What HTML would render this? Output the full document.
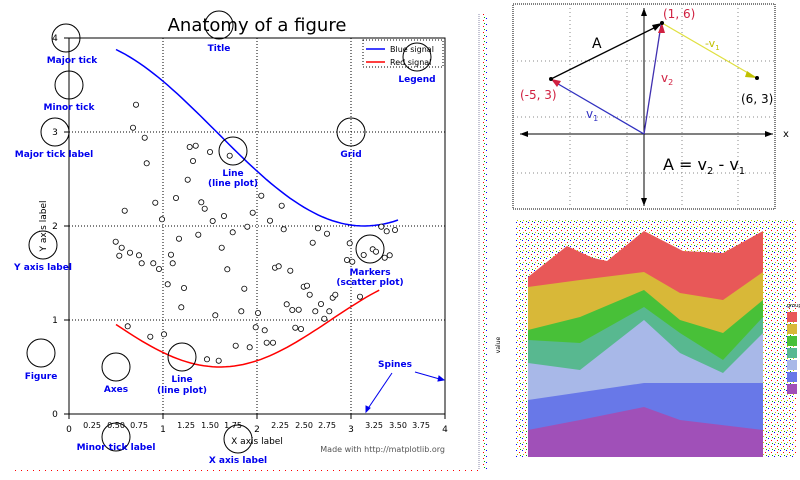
<!DOCTYPE html>
<html><head><meta charset="utf-8"><style>
html,body{margin:0;padding:0;background:#fff;width:800px;height:480px;overflow:hidden}
text{font-family:"DejaVu Sans","Liberation Sans",sans-serif}
.b{fill:#0000ee;font-weight:bold;font-size:9px;text-anchor:middle}
.t{font-size:9px;fill:#000;text-anchor:middle}
.m{font-size:8px;fill:#333;text-anchor:middle}
.c{fill:none;stroke:#000;stroke-width:1}
</style></head><body>
<svg width="800" height="480" viewBox="0 0 800 480" xmlns="http://www.w3.org/2000/svg">
<defs>
<pattern id="noise" width="6" height="6" patternUnits="userSpaceOnUse">
<rect x="0" y="0" width="1" height="1" fill="#00f"/><rect x="3" y="2" width="1" height="1" fill="#f00"/><rect x="1" y="4" width="1" height="1" fill="#cc0"/><rect x="4" y="5" width="1" height="1" fill="#0a0"/>
</pattern>
</defs>
<!-- left panel -->
<text x="257" y="31" font-size="18" text-anchor="middle" fill="#000">Anatomy of a figure</text>
<!-- grid -->
<g stroke="#000" stroke-width="1" stroke-dasharray="1,2">
<line x1="163" y1="38" x2="163" y2="414"/><line x1="257" y1="38" x2="257" y2="414"/><line x1="351" y1="38" x2="351" y2="414"/>
<line x1="69" y1="320" x2="445" y2="320"/><line x1="69" y1="226" x2="445" y2="226"/><line x1="69" y1="132" x2="445" y2="132"/>
</g>
<rect x="69" y="38" width="376" height="376" fill="none" stroke="#000" stroke-width="1"/>
<!-- ticks -->
<g stroke="#000">
<line x1="69" y1="414" x2="69" y2="419"/><line x1="163" y1="414" x2="163" y2="419"/><line x1="257" y1="414" x2="257" y2="419"/><line x1="351" y1="414" x2="351" y2="419"/><line x1="445" y1="414" x2="445" y2="419"/>
<line x1="64" y1="414" x2="69" y2="414"/><line x1="64" y1="320" x2="69" y2="320"/><line x1="64" y1="226" x2="69" y2="226"/><line x1="64" y1="132" x2="69" y2="132"/><line x1="64" y1="38" x2="69" y2="38"/>
</g>
<g class="t">
<text x="69" y="432">0</text><text x="163" y="432">1</text><text x="257" y="432">2</text><text x="351" y="432">3</text><text x="445" y="432">4</text>
<text x="92" y="428" font-size="8">0.25</text><text x="116" y="428" font-size="8">0.50</text><text x="139" y="428" font-size="8">0.75</text>
<text x="186" y="428" font-size="8">1.25</text><text x="210" y="428" font-size="8">1.50</text><text x="233" y="428" font-size="8">1.75</text>
<text x="280" y="428" font-size="8">2.25</text><text x="304" y="428" font-size="8">2.50</text><text x="327" y="428" font-size="8">2.75</text>
<text x="374" y="428" font-size="8">3.25</text><text x="398" y="428" font-size="8">3.50</text><text x="421" y="428" font-size="8">3.75</text>
<text x="55" y="417">0</text><text x="55" y="323">1</text><text x="55" y="229">2</text><text x="55" y="135">3</text><text x="55" y="41">4</text>
</g>
<text x="257" y="444" class="t">X axis label</text>
<text transform="translate(46,226) rotate(-90)" class="t">Y axis label</text>
<text x="445" y="452" font-size="8" fill="#555" text-anchor="end">Made with http://matplotlib.org</text>
<!-- curves -->
<path id="blue" fill="none" stroke="#0000ff" stroke-width="1.5" d=""/>
<path id="red" fill="none" stroke="#ff0000" stroke-width="1.5" d=""/>
<!-- legend -->
<rect x="363" y="40" width="80" height="27" fill="#fff" stroke="#000" stroke-dasharray="1,2"/>
<line x1="366" y1="49" x2="385" y2="49" stroke="#00f" stroke-width="1.5"/><text x="390" y="52" font-size="8">Blue signal</text>
<line x1="366" y1="62" x2="385" y2="62" stroke="#f00" stroke-width="1.5"/><text x="390" y="65" font-size="8">Red signal</text>
<!-- scatter -->
<g id="sc" fill="#fff" stroke="#000" stroke-width="0.8"></g>
<!-- annotation circles -->
<g class="c">
<circle cx="66" cy="38" r="14"/><circle cx="69" cy="85" r="14"/><circle cx="55" cy="132" r="14"/><circle cx="219" cy="25" r="14"/><circle cx="233" cy="151" r="14"/><circle cx="351" cy="132" r="14"/><circle cx="417" cy="57" r="14"/><circle cx="43" cy="245" r="14"/><circle cx="370" cy="249" r="14"/><circle cx="41" cy="353" r="14"/><circle cx="116" cy="367" r="14"/><circle cx="182" cy="357" r="14"/><circle cx="116" cy="437" r="14"/><circle cx="238" cy="439" r="14"/>
</g>
<g class="b">
<text x="72" y="63">Major tick</text><text x="69" y="110">Minor tick</text><text x="54" y="157">Major tick label</text><text x="219" y="51">Title</text><text x="417" y="82">Legend</text>
<text x="233" y="176">Line</text><text x="233" y="186">(line plot)</text><text x="351" y="157">Grid</text><text x="43" y="270">Y axis label</text>
<text x="370" y="275">Markers</text><text x="370" y="285">(scatter plot)</text><text x="41" y="379">Figure</text><text x="116" y="392">Axes</text>
<text x="182" y="382">Line</text><text x="182" y="393">(line plot)</text><text x="395" y="367">Spines</text><text x="116" y="450">Minor tick label</text><text x="238" y="463">X axis label</text>
</g>
<g stroke="#0000ee" stroke-width="1" fill="#0000ee">
<line x1="392" y1="373" x2="367" y2="410"/><polygon points="366,412 366,406 370,408"/>
<line x1="415" y1="372" x2="443" y2="380"/><polygon points="444,380 439,376 438,381"/>
</g>
<line x1="479" y1="14" x2="479" y2="470" stroke="#88a" stroke-dasharray="1,1"/>
<rect x="10" y="469" width="470" height="3" fill="url(#noise)"/>
<rect x="482" y="14" width="5" height="456" fill="url(#noise)"/>

<!-- top right vector panel -->
<g>
<rect x="513" y="4" width="262" height="205" fill="#fff" stroke="#000" stroke-dasharray="1,1"/>
<g stroke="#888" stroke-dasharray="1,3">
<line x1="570" y1="4" x2="570" y2="209"/><line x1="627" y1="4" x2="627" y2="209"/><line x1="682" y1="4" x2="682" y2="209"/><line x1="738" y1="4" x2="738" y2="209"/>
<line x1="513" y1="61" x2="775" y2="61"/><line x1="513" y1="117" x2="775" y2="117"/><line x1="513" y1="173" x2="775" y2="173"/>
</g>
<line x1="520" y1="134" x2="773" y2="134" stroke="#000"/><polygon points="773,134 765,131 765,137"/><polygon points="520,134 528,131 528,137"/>
<line x1="644" y1="8" x2="644" y2="206" stroke="#000"/><polygon points="644,8 641,16 647,16"/><polygon points="644,206 641,198 647,198"/>
<text x="783" y="137" font-size="10">x</text>
<line x1="551" y1="79" x2="660" y2="25" stroke="#000" stroke-width="1.3"/><polygon points="662,23 652,25 655,31"/>
<line x1="644" y1="134" x2="553" y2="81" stroke="#3030c0" stroke-width="1.3"/><polygon points="551,79 561,81 557,87" fill="#d02040"/>
<line x1="644" y1="134" x2="661" y2="25" stroke="#4030b0" stroke-width="1.3"/><polygon points="662,23 658,33 665,33" fill="#d02040"/>
<line x1="662" y1="23" x2="755" y2="77" stroke="#e0e040" stroke-width="1.3"/><polygon points="757,78 747,71 745,77" fill="#c0c000"/>
<circle cx="551" cy="79" r="2"/><circle cx="662" cy="23" r="2"/><circle cx="757" cy="78" r="2"/>
<text x="663" y="18" font-size="12" fill="#d02040">(1, 6)</text>
<text x="520" y="99" font-size="12" fill="#d02040">(-5, 3)</text>
<text x="741" y="103" font-size="12" fill="#000">(6, 3)</text>
<text x="592" y="48" font-size="14">A</text>
<text x="661" y="82" font-size="12" fill="#d02040">v<tspan font-size="8" dy="3">2</tspan></text>
<text x="586" y="118" font-size="12" fill="#3030c0">v<tspan font-size="8" dy="3">1</tspan></text>
<text x="705" y="47" font-size="11" fill="#c0c000">-v<tspan font-size="7" dy="3">1</tspan></text>
<text x="663" y="170" font-size="16">A = v<tspan font-size="10" dy="4">2</tspan><tspan dy="-4"> - v</tspan><tspan font-size="10" dy="4">1</tspan></text>
</g>

<!-- bottom right stacked area -->
<rect x="516" y="220" width="280" height="238" fill="url(#noise)"/>
<g stroke="none">
<polygon fill="#e85858" points="528,277 567,246 593,258 607,261 644,231 683,251 723,253 763,231 763,457 528,457"/>
<polygon fill="#d8b838" points="528,287 580,280 644,272 680,293 723,300 763,272 763,457 528,457"/>
<polygon fill="#48c038" points="528,330 580,317 644,290 680,320 723,333 763,300 763,457 528,457"/>
<polygon fill="#58b890" points="528,340 580,343 644,307 680,333 723,360 763,317 763,457 528,457"/>
<polygon fill="#a8b8e8" points="528,363 580,370 644,320 680,353 723,373 763,333 763,457 528,457"/>
<polygon fill="#6878e8" points="528,400 644,383 763,383 763,457 528,457"/>
<polygon fill="#a050b8" points="528,430 580,420 644,407 680,420 763,430 763,457 528,457"/>
</g>
<text transform="translate(500,345) rotate(-90)" font-size="6" text-anchor="middle">value</text>
<g>
<rect x="787" y="312" width="10" height="10" fill="#e85858"/><rect x="787" y="324" width="10" height="10" fill="#d8b838"/><rect x="787" y="336" width="10" height="10" fill="#48c038"/><rect x="787" y="348" width="10" height="10" fill="#58b890"/><rect x="787" y="360" width="10" height="10" fill="#a8b8e8"/><rect x="787" y="372" width="10" height="10" fill="#6878e8"/><rect x="787" y="384" width="10" height="10" fill="#a050b8"/>
<text x="787" y="307" font-size="5">group</text>
</g>
</svg>
<script>
function px(x){return 69+94*x}function py(y){return 414-94*y}
var b="",r="";
for(var i=0;i<=60;i++){var x=0.5+3*i/60;b+=(i?"L":"M")+px(x).toFixed(1)+","+py(3+Math.cos(x)).toFixed(1);}
for(var i=0;i<=60;i++){var x=0.5+2.8*i/60;r+=(i?"L":"M")+px(x).toFixed(1)+","+py(1+Math.cos(1+x/0.75)/2).toFixed(1);}
document.getElementById("blue").setAttribute("d",b);
document.getElementById("red").setAttribute("d",r);
var pts=[[408,314],[399,383],[434,413],[440,490],[374,632],[466,608],[486,658],[347,725],[365,743],[358,767],[390,758],[417,766],[425,790],[460,790],[477,807],[513,764],[518,790],[503,853],[537,716],[528,594],[563,539],[569,441],[587,437],[579,483],[630,456],[689,467],[595,704],[604,607],[614,626],[638,663],[672,648],[698,697],[665,743],[682,808],[742,680],[758,638],[784,587],[810,662],[845,617],[851,688],[825,803],[836,799],[871,812],[733,866],[724,934],[646,946],[552,864],[544,922],[492,1003],[451,1010],[383,979],[621,1078],[656,1082],[707,1037],[749,1042],[767,982],[774,939],[794,991],[800,1028],[819,1028],[886,983],[903,987],[860,913],[877,930],[896,929],[911,860],[921,857],[929,884],[946,934],[963,912],[988,934],[973,956],[998,893],[1006,884],[938,728],[954,685],[981,701],[1049,730],[1041,780],[1057,785],[1091,765],[1118,748],[1128,755],[1154,773],[1169,766],[1144,680],[1160,694],[1185,690],[1080,890]];
var g=document.getElementById("sc"),s="";
pts.forEach(function(p){s+='<circle cx="'+(p[0]/3).toFixed(1)+'" cy="'+(p[1]/3).toFixed(1)+'" r="2.6"/>';});
g.innerHTML=s;
</script>
</body></html>
